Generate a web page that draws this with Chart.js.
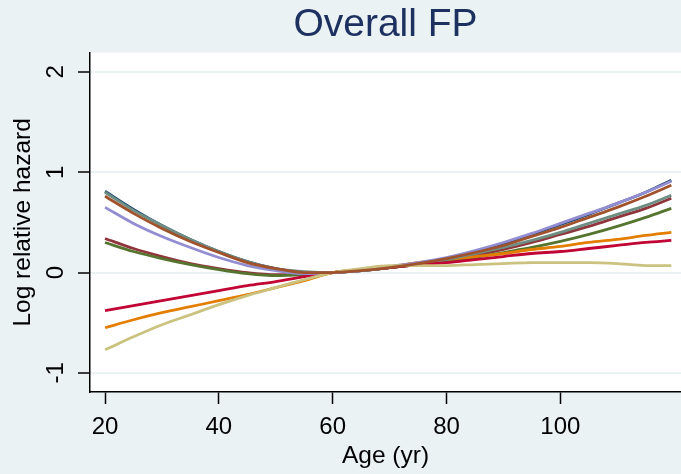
<!DOCTYPE html>
<html>
<head>
<meta charset="utf-8">
<script src="https://cdn.jsdelivr.net/npm/chart.js@4.4.1/dist/chart.umd.min.js"></script>
<style>
    html, body { margin: 0; padding: 0; background: #eaf2f3; }
    #wrap { width: 681px; height: 474px; position: relative; }
</style>
</head>
<body>
<div id="wrap"><canvas id="fpChart"></canvas></div>
<script>
const ages = [20, 25, 30, 35, 40, 45, 50, 55, 60, 65, 70, 75, 80, 85, 90, 95, 100, 105, 110, 115, 119.5];

// log relative hazard, one array per curve (Stata s2color order)
const navyVals      = [0.81, 0.63, 0.47, 0.33, 0.21, 0.11, 0.04, 0.00, 0.00, 0.02, 0.05, 0.09, 0.14, 0.21, 0.29, 0.38, 0.48, 0.58, 0.69, 0.80, 0.92];
const maroonVals    = [0.34, 0.24, 0.16, 0.09, 0.04, 0.00, -0.02, -0.02, 0.00, 0.02, 0.05, 0.08, 0.12, 0.17, 0.23, 0.30, 0.38, 0.46, 0.55, 0.64, 0.74];
const greenVals     = [0.30, 0.21, 0.14, 0.08, 0.03, -0.01, -0.03, -0.02, 0.00, 0.02, 0.05, 0.08, 0.11, 0.15, 0.20, 0.25, 0.31, 0.38, 0.46, 0.55, 0.64];
const orangeVals    = [-0.55, -0.47, -0.40, -0.34, -0.28, -0.22, -0.15, -0.08, 0.00, 0.03, 0.06, 0.10, 0.13, 0.16, 0.19, 0.23, 0.26, 0.30, 0.33, 0.37, 0.40];
const tealVals      = [0.80, 0.62, 0.47, 0.33, 0.21, 0.11, 0.04, 0.01, 0.00, 0.02, 0.05, 0.09, 0.13, 0.19, 0.25, 0.32, 0.40, 0.49, 0.58, 0.67, 0.77];
const cranberryVals = [-0.38, -0.33, -0.28, -0.23, -0.18, -0.13, -0.09, -0.04, 0.00, 0.03, 0.05, 0.08, 0.10, 0.13, 0.16, 0.19, 0.21, 0.24, 0.27, 0.30, 0.32];
const lavenderVals  = [0.65, 0.49, 0.36, 0.25, 0.15, 0.07, 0.02, -0.01, 0.00, 0.02, 0.06, 0.10, 0.15, 0.22, 0.30, 0.39, 0.49, 0.59, 0.69, 0.80, 0.91];
const khakiVals     = [-0.77, -0.64, -0.52, -0.42, -0.32, -0.23, -0.15, -0.07, 0.00, 0.04, 0.07, 0.07, 0.07, 0.08, 0.09, 0.10, 0.10, 0.10, 0.09, 0.07, 0.07];
const siennaVals    = [0.76, 0.59, 0.44, 0.31, 0.20, 0.10, 0.04, 0.00, 0.00, 0.02, 0.05, 0.09, 0.14, 0.20, 0.27, 0.36, 0.45, 0.55, 0.65, 0.76, 0.87];

const xTicks = [20, 40, 60, 80, 100];
const yTicks = [-1, 0, 1, 2];

const series = [
    { vals: navyVals,      color: '#1a476f' },
    { vals: maroonVals,    color: '#90353b' },
    { vals: greenVals,     color: '#55752f' },
    { vals: orangeVals,    color: '#e37e00' },
    { vals: tealVals,      color: '#6e8e84' },
    { vals: cranberryVals, color: '#c10534' },
    { vals: lavenderVals,  color: '#938dd2' },
    { vals: khakiVals,     color: '#cac27e' },
    { vals: siennaVals,    color: '#a0522d' }
];

const FONT = 'Liberation Sans, Arial, sans-serif';

// white plot region + rotated y tick labels (Stata style)
const stataLook = {
    id: 'stataLook',
    beforeDraw(chart) {
        const { ctx, chartArea: a } = chart;
        ctx.save();
        ctx.fillStyle = '#ffffff';
        ctx.fillRect(a.left, a.top, a.right - a.left, a.bottom - a.top);
        ctx.restore();
    },
    afterDraw(chart) {
        const { ctx } = chart;
        const y = chart.scales.y;
        ctx.save();
        ctx.fillStyle = '#000';
        ctx.font = '24px ' + FONT;
        ctx.textAlign = 'center';
        ctx.textBaseline = 'middle';
        yTicks.forEach(v => {
            ctx.save();
            ctx.translate(55, y.getPixelForValue(v));
            ctx.rotate(-Math.PI / 2);
            ctx.fillText(String(v), 0, 1);
            ctx.restore();
        });
        ctx.restore();
    }
};

new Chart(document.getElementById('fpChart'), {
    type: 'line',
    data: {
        datasets: series.map((s, i) => ({
            data: ages.map((a, k) => ({ x: a, y: s.vals[k] })),
            borderColor: s.color,
            borderWidth: 2.8,
            pointRadius: 0,
            cubicInterpolationMode: 'monotone',
            fill: false,
            order: series.length - i
        }))
    },
    options: {
        responsive: true,
        maintainAspectRatio: false,
        animation: false,
        layout: { padding: { left: 0, right: 0, top: 0, bottom: 0 } },
        plugins: {
            legend: { display: false },
            tooltip: { enabled: false },
            title: {
                display: true,
                text: 'Overall FP',
                fullSize: false,
                color: '#1c3160',
                font: { family: FONT, size: 39, weight: 'normal' },
                padding: { top: 2, bottom: 4 }
            }
        },
        scales: {
            x: {
                type: 'linear',
                min: 17.36,
                max: 121.2,
                afterBuildTicks: s => { s.ticks = xTicks.map(v => ({ value: v })); },
                afterFit: s => { s.height = 82; },
                grid: { drawOnChartArea: false, tickLength: 12, tickColor: '#000', tickWidth: 1.5 },
                border: { color: '#000', width: 1.5 },
                ticks: { color: '#000', font: { family: FONT, size: 24 }, padding: 9, maxRotation: 0 },
                title: {
                    display: true,
                    text: 'Age (yr)',
                    color: '#000',
                    font: { family: FONT, size: 24.5 },
                    padding: { top: 0, bottom: 3 }
                }
            },
            y: {
                type: 'linear',
                min: -1.19,
                max: 2.19,
                afterBuildTicks: s => { s.ticks = yTicks.map(v => ({ value: v })); },
                afterFit: s => { s.width = 90; },
                grid: { color: '#eaf2f3', lineWidth: 2, tickLength: 12, tickColor: '#000', tickWidth: 1.5 },
                border: { color: '#000', width: 1.5 },
                ticks: { display: false },
                title: {
                    display: true,
                    text: 'Log relative hazard',
                    color: '#000',
                    font: { family: FONT, size: 24.5 },
                    padding: { top: 9, bottom: 0 }
                }
            }
        }
    },
    plugins: [stataLook]
});
</script>
</body>
</html>
